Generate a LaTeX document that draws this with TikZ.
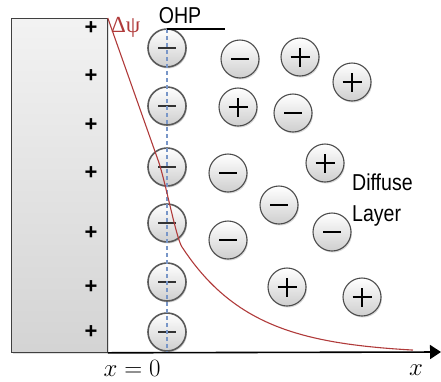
\documentclass[tikz,border=0pt]{standalone}
\usepackage{fontspec}
\setsansfont{Liberation Sans}
\newfontfamily\grfont{Liberation Serif}
\usetikzlibrary{arrows.meta,shadows}
\definecolor{curvered}{RGB}{176,58,58}
\definecolor{dashblue}{RGB}{120,150,200}
\begin{document}
\begin{tikzpicture}[x=1pt,y=-1pt,
  electrode/.style={rectangle, inner sep=0pt, draw=black!75, line width=0.8pt,
    top color=gray!10, bottom color=gray!34,
    drop shadow={shadow xshift=1.5pt, shadow yshift=-1.5pt, opacity=0.25}},
  eplus/.style={inner sep=0pt, font=\sffamily\bfseries\fontsize{22}{22}\selectfont},
  ion/.style={circle, minimum size=38pt, inner sep=0pt, draw=black!70, line width=1.1pt,
    top color=white, bottom color=gray!38,
    drop shadow={shadow xshift=1pt, shadow yshift=-1.5pt, opacity=0.3}},
  negion/.style={ion, path picture={\draw[line width=2pt,black]
     ([xshift=-9pt]path picture bounding box.center) -- ([xshift=9pt]path picture bounding box.center);}},
  posion/.style={ion, path picture={\draw[line width=2pt,black]
     ([xshift=-9.5pt]path picture bounding box.center) -- ([xshift=9.5pt]path picture bounding box.center)
     ([yshift=-9.5pt]path picture bounding box.center) -- ([yshift=9.5pt]path picture bounding box.center);}},
  ohpion/.style={ion, draw=black!65, line width=1.6pt, path picture={\draw[line width=2.8pt,black!80]
     ([xshift=-9pt]path picture bounding box.center) -- ([xshift=9pt]path picture bounding box.center);}},
  sanslabel/.style={inner sep=0pt, font=\sffamily\fontsize{23}{23}\selectfont},
  dashline/.style={dashblue, line width=1.1pt, dash pattern=on 4pt off 3pt},
  potcurve/.style={curvered, line width=1.1pt, line join=round},
  axisline/.style={black, line width=1.6pt, -{Triangle[length=11pt,width=14pt]}}
]
\useasboundingbox (0,0) rectangle (441,381);

% electrode
\node[electrode, minimum width=96pt, minimum height=334pt, anchor=north west] (el) at (11,18) {};
\node[eplus] (p1) at (91,28) {+};
\node[eplus] (p2) at (91,76) {+};
\node[eplus] (p3) at (91,125) {+};
\node[eplus] (p4) at (91,173) {+};
\node[eplus] (p5) at (91,233) {+};
\node[eplus] (p6) at (91,287) {+};
\node[eplus] (p7) at (91,332) {+};

% OHP ions
\node[ohpion] (o1) at (167,48) {};
\node[ohpion] (o2) at (167,106) {};
\node[ohpion] (o3) at (167,167) {};
\node[ohpion] (o4) at (167,223) {};
\node[ohpion] (o5) at (167,282) {};
\node[ohpion] (o6) at (167,332) {};

% diffuse ions
\node[negion] (d1) at (240,59) {};
\node[posion] (d2) at (300,57) {};
\node[posion] (d3) at (352,82) {};
\node[posion] (d4) at (238,107) {};
\node[negion] (d5) at (293,113) {};
\node[negion] (d6) at (228,173) {};
\node[posion] (d7) at (325,163) {};
\node[negion] (d8) at (279,205) {};
\node[negion] (d9) at (228,240) {};
\node[negion] (d10) at (332,232) {};
\node[posion] (d11) at (287,287) {};
\node[posion] (d12) at (362,297) {};

% OHP
\coordinate (ohpl) at (167,29);
\coordinate (ohpr) at (225,29);
\coordinate (dashend) at (167,352);
\draw[dashline] (ohpl) -- (dashend);
\draw[black, line width=1.2pt] (ohpl) -- (ohpr);
\node[sanslabel, anchor=base] (ohp) at (180,23) {\scalebox{0.85}[1]{OHP}};

% potential curve
\draw[potcurve] (el.north east) -- (158,160) .. controls (165,179) and (176,238) .. (182,247)
  -- plot[domain=182:413, samples=60] (\x,{354-107*exp(-(\x-182)/70)});
\node[inner sep=0pt, anchor=base west, text=curvered, font=\grfont\fontsize{23}{23}\selectfont] (dpsi) at (111,32) {Δψ};

% axis
\coordinate (xend) at (441,352);
\draw[axisline] (el.south east) -- (xend);
\node[inner sep=0pt, anchor=base, font=\Huge] (x0) at (132,376) {$x=0$};
\node[inner sep=0pt, anchor=base, font=\Huge] (xl) at (416,375) {$x$};

% label
\node[sanslabel, anchor=base west] (diff) at (352,190) {\scalebox{0.85}[1]{Diffuse}};
\node[sanslabel, anchor=base west] (lay) at (352,221) {\scalebox{0.85}[1]{Layer}};
\end{tikzpicture}
\end{document}
